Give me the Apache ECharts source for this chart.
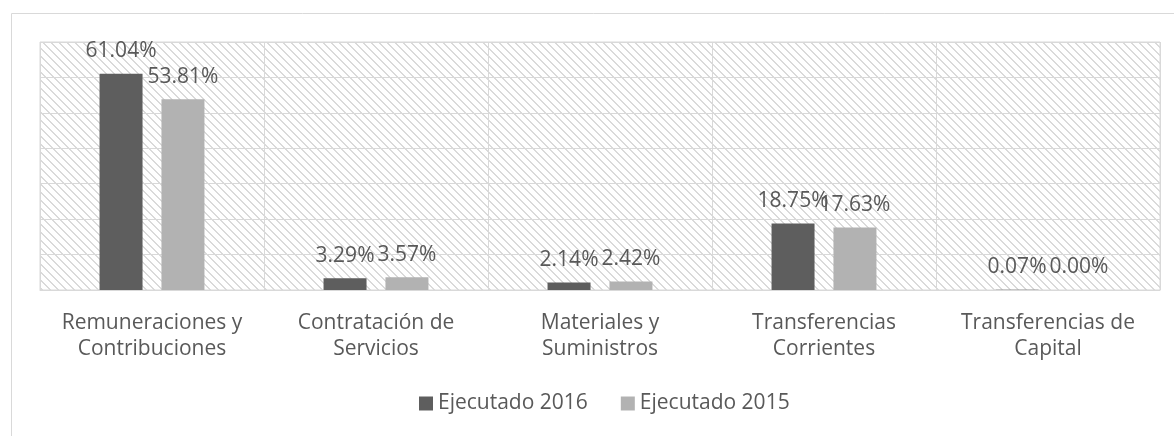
<!DOCTYPE html>
<html>
<head>
<meta charset="utf-8">
<script src="https://cdn.jsdelivr.net/npm/echarts@6/dist/echarts.min.js"></script>
<style>
  html, body { margin: 0; padding: 0; background: #fff; }
  #wrap { width: 1174px; height: 436px; }
</style>
</head>
<body>
<div id="wrap"></div>
<script>
var categories = ['Remuneraciones y\nContribuciones', 'Contratación de\nServicios', 'Materiales y\nSuministros', 'Transferencias\nCorrientes', 'Transferencias de\nCapital'];
var ejecutado2016 = [61.04, 3.29, 2.14, 18.75, 0.07];
var ejecutado2015 = [53.81, 3.57, 2.42, 17.63, 0.00];

// hatch tile for the plot background (wide downward diagonal)
var tile = document.createElement('canvas');
tile.width = 8;
tile.height = 8;
var ctx = tile.getContext('2d');
ctx.fillStyle = '#ffffff';
ctx.fillRect(0, 0, 8, 8);
ctx.fillStyle = '#dadada';
for (var i = 0; i < 8; i++) {
    ctx.fillRect(i, i, 1, 1);
    ctx.fillRect((i + 1) % 8, i, 1, 1);
}

var textColor = '#595959';
var fontFamily = '"Open Sans", "Noto Sans", sans-serif';

var labelOpt = {
    show: true,
    position: 'top',
    distance: 12,
    color: textColor,
    fontSize: 21,
    fontFamily: fontFamily,
    formatter: function (p) { return p.value.toFixed(2) + '%'; }
};

var option = {
    animation: false,
    graphic: [{
        type: 'rect',
        shape: { x: 11.5, y: 13.5, width: 1200, height: 500 },
        style: { fill: 'none', stroke: '#d9d9d9', lineWidth: 1 },
        silent: true
    }],
    legend: {
        data: ['Ejecutado 2016', 'Ejecutado 2015'],
        bottom: 17,
        left: 414,
        itemWidth: 14,
        itemHeight: 14,
        itemGap: 33,
        icon: 'rect',
        textStyle: { color: textColor, fontSize: 21, fontFamily: fontFamily }
    },
    grid: {
        left: 40,
        right: 14,
        top: 42,
        bottom: 146,
        show: true,
        borderColor: '#d9d9d9',
        borderWidth: 1,
        backgroundColor: { image: tile, repeat: 'repeat' }
    },
    xAxis: {
        type: 'category',
        data: categories,
        axisLine: { lineStyle: { color: '#d9d9d9' } },
        axisTick: { show: false },
        splitLine: { show: true, lineStyle: { color: '#d9d9d9', width: 1 } },
        axisLabel: {
            color: textColor,
            fontSize: 21,
            fontFamily: fontFamily,
            lineHeight: 26,
            margin: 20,
            interval: 0
        }
    },
    yAxis: {
        type: 'value',
        min: 0,
        max: 70,
        interval: 10,
        axisLabel: { show: false },
        axisLine: { show: false },
        axisTick: { show: false },
        splitLine: { lineStyle: { color: '#d9d9d9', width: 1 } }
    },
    series: [
        {
            name: 'Ejecutado 2016',
            type: 'bar',
            data: ejecutado2016,
            barWidth: 43,
            barGap: '44%',
            itemStyle: { color: '#5e5e5e' },
            label: labelOpt
        },
        {
            name: 'Ejecutado 2015',
            type: 'bar',
            data: ejecutado2015,
            barWidth: 43,
            itemStyle: { color: '#b2b2b2' },
            label: labelOpt
        }
    ]
};

var myChart = echarts.init(document.getElementById('wrap'));
myChart.setOption(option);
</script>
</body>
</html>
